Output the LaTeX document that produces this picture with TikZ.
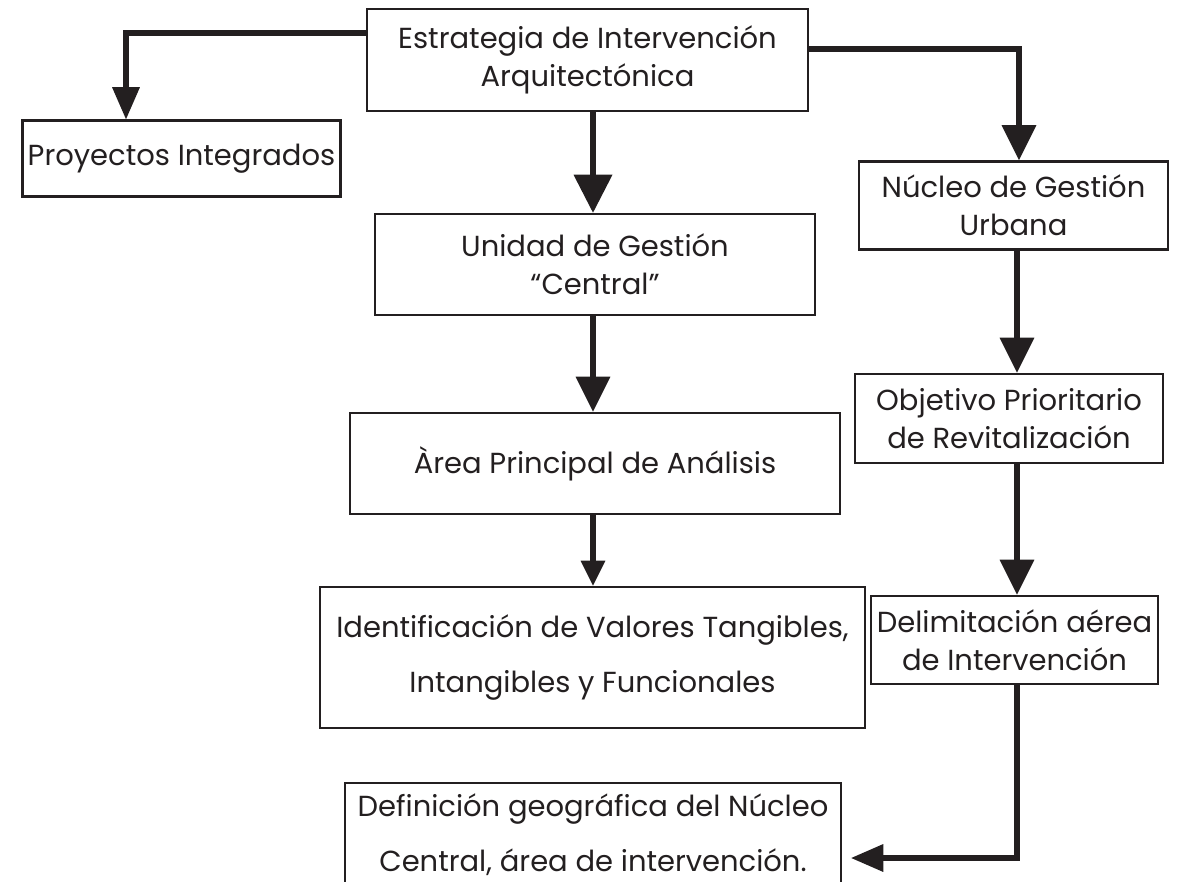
\documentclass[tikz,border=0pt]{standalone}
\usepackage{fontspec}
\setmainfont{Poppins}
\usepackage{tikz}
\usetikzlibrary{arrows.meta}
\usetikzlibrary{calc}
\definecolor{ink}{HTML}{231F20}

\begin{document}
\begin{tikzpicture}[x=0.02cm,y=-0.02cm]
\def\px{0.02cm}
\useasboundingbox (0,0) rectangle (1177,882);

\tikzstyle{box}=[
	draw=ink,
	text=ink,
	line width=1.5pt,
	inner sep=0pt,
	align=center,
	font=\fontsize{16.5}{21.6}\selectfont
]
\tikzstyle{tall}=[font=\fontsize{16.5}{31.3}\selectfont]
\tikzstyle{conn}=[draw=ink,line width=3.4pt]
\tikzstyle{bighead}=[-{Triangle[length=21.6pt,width=22.2pt,line width=0pt]}]
\tikzstyle{midhead}=[-{Triangle[length=19.9pt,width=19.9pt,line width=0pt]}]
\tikzstyle{smallhead}=[-{Triangle[length=18.2pt,width=15.9pt,line width=0pt]}]
\tikzstyle{tinyhead}=[-{Triangle[length=14.2pt,width=14.2pt,line width=0pt]}]

%%TOP
\node (estrategia) [box, minimum width=441*\px, minimum height=102*\px] at (587.5,60)
	{Estrategia de Intervención\\Arquitectónica};
\node (proyectos) [box, minimum width=318*\px, minimum height=76*\px] at (181.5,158.5)
	{Proyectos Integrados};

%%LEFT COLUMN
\node (unidad) [box, minimum width=440*\px, minimum height=101*\px] at (595,264.5)
	{Unidad de Gestión\\“Central”};
\node (area) [box, minimum width=490*\px, minimum height=101*\px] at (595,463.5)
	{Àrea Principal de Análisis};
\node (identif) [box, tall, minimum width=545*\px, minimum height=141*\px] at (592.5,657.5)
	{Identificación de Valores Tangibles,\\Intangibles y Funcionales};
\node (defin) [box, tall, minimum width=496*\px, minimum height=103*\px] at (593,834.5)
	{Definición geográfica del Núcleo\\Central, área de intervención.};

%%RIGHT COLUMN
\node (nucleo) [box, minimum width=309*\px, minimum height=88*\px] at (1013.5,205.5)
	{Núcleo de Gestión\\Urbana};
\node (objetivo) [box, minimum width=308*\px, minimum height=89*\px] at (1009,418.5)
	{Objetivo Prioritario\\de Revitalización};
\node (delim) [box, minimum width=287*\px, minimum height=88*\px] at (1014.5,640)
	{Delimitación aérea\\de Intervención};

%% connectors
\coordinate (lcorner) at (126,33);
\coordinate (rcorner) at (1019,49);
\coordinate (lspine) at (593,0);
\coordinate (rspine) at (1017,0);
\coordinate (lowturn) at (1017,858);

\draw[conn,smallhead] (estrategia.west |- lcorner) -| (proyectos.north -| lcorner);
\draw[conn,bighead] (estrategia.south -| lspine) -- (unidad.north -| lspine);
\draw[conn,midhead] (estrategia.east |- rcorner) -| (nucleo.north -| rcorner);
\draw[conn,midhead] (unidad.south -| lspine) -- (area.north -| lspine);
\draw[conn,tinyhead] (area.south -| lspine) -- (identif.north -| lspine);
\draw[conn,midhead] (nucleo.south -| rspine) -- (objetivo.north -| rspine);
\draw[conn,midhead] (objetivo.south -| rspine) -- (delim.north -| rspine);
\draw[conn,smallhead,shorten >=5.1pt] (delim.south -| rspine) |- (defin.east |- lowturn);

\end{tikzpicture}
\end{document}
